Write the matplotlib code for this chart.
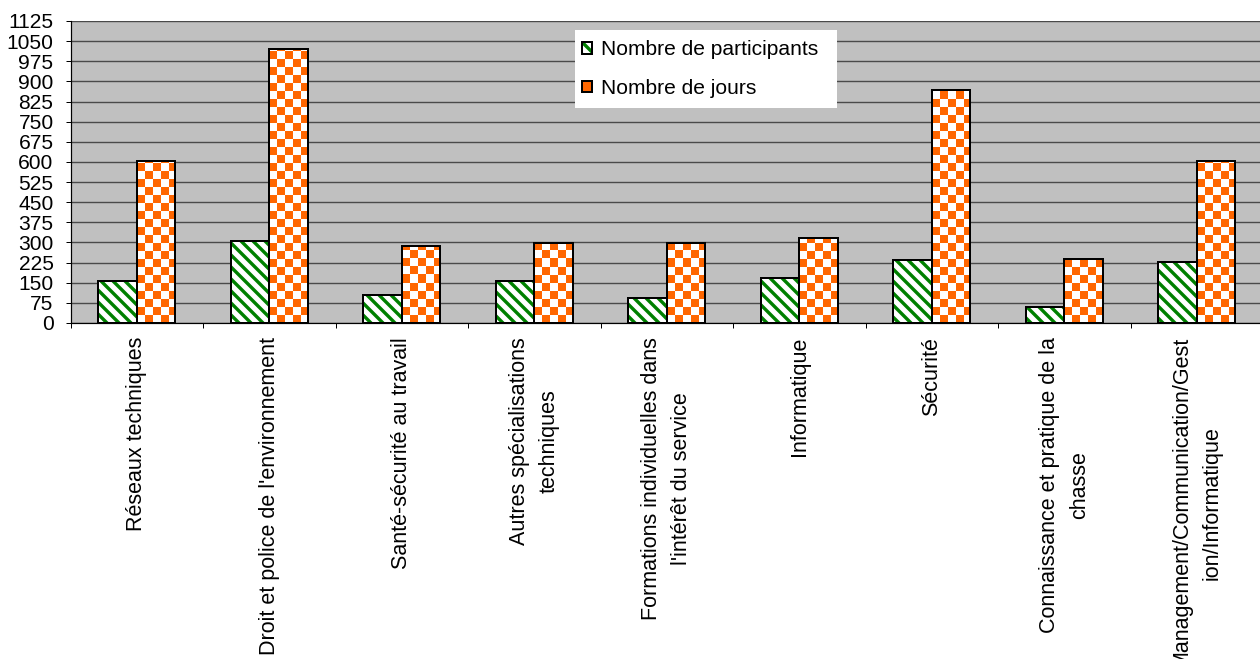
import numpy as np
import matplotlib
matplotlib.use("Agg")
import matplotlib.pyplot as plt
from matplotlib.patches import Patch, Rectangle
from matplotlib.colors import ListedColormap
from matplotlib.legend_handler import HandlerTuple

categories = [
    "Réseaux techniques",
    "Droit et police de l'environnement",
    "Santé-sécurité au travail",
    "Autres spécialisations\ntechniques",
    "Formations individuelles dans\nl'intérêt du service",
    "Informatique",
    "Sécurité",
    "Connaissance et pratique de la\nchasse",
    "Management/Communication/Gest\nion/Informatique",
]
participants = [157, 305, 105, 157, 92, 166, 233, 61, 226]
jours = [603, 1020, 287, 299, 299, 315, 867, 240, 603]
series_labels = ["Nombre de participants", "Nombre de jours"]
yticks = list(range(0, 1126, 75))

DPI = 72
W, H = 1260, 659
plt.rcParams["font.family"] = ["Liberation Sans", "DejaVu Sans"]
plt.rcParams["hatch.linewidth"] = 3.4

GREEN = "#008000"
ORANGE = "#FF6600"
FS = 21
LW = 2.0
STRIPES = "\\\\"

fig = plt.figure(figsize=(W / DPI, H / DPI), dpi=DPI)
x_left, x_right, y_top, y_bot = 70.5, 1263.0, 21.0, 323.0
ax = fig.add_axes([x_left / W, 1 - y_bot / H, (x_right - x_left) / W, (y_bot - y_top) / H])
ax.set_facecolor("#C0C0C0")
ax.set_axisbelow(True)

n = len(categories)
x = np.arange(n)
bw = 0.29
xlim = (-0.5, n - 0.5)
ylim = (0, 1125)

# participants: green diagonal hatch on white, black outline
ax.bar(x - bw / 2, participants, bw, facecolor="white", edgecolor=GREEN,
       hatch=STRIPES, linewidth=0, zorder=1)
ax.bar(x - bw / 2, participants, bw, fill=False, edgecolor="black",
       linewidth=LW, zorder=3)

# jours: orange/white checkerboard clipped to each bar, black outline
px_x = (x_right - x_left) / (xlim[1] - xlim[0])   # pixels per data unit (x)
px_y = (y_bot - y_top) / (ylim[1] - ylim[0])      # pixels per data unit (y)
sq = 8.0                                           # checker square, pixels
cmap = ListedColormap(["white", ORANGE])
base = ax.bar(x + bw / 2, jours, bw, facecolor="white", edgecolor="none",
              linewidth=0, zorder=1)
for rect, v in zip(base.patches, jours):
    x0 = rect.get_x()
    ncols = int(np.ceil(bw * px_x / sq)) + 1
    nrows = int(np.ceil(v * px_y / sq)) + 1
    board = (np.add.outer(np.arange(nrows), np.arange(ncols)) % 2).astype(float)
    im = ax.imshow(board, cmap=cmap, vmin=0, vmax=1, origin="lower",
                   interpolation="nearest", aspect="auto",
                   extent=(x0, x0 + ncols * sq / px_x, 0, nrows * sq / px_y),
                   zorder=1.5)
    im.set_clip_path(rect)
ax.bar(x + bw / 2, jours, bw, fill=False, edgecolor="black",
       linewidth=LW, zorder=3)

ax.set_xlim(*xlim)
ax.set_ylim(*ylim)

# y axis
ax.set_yticks(yticks)
ax.set_yticklabels([str(t) for t in yticks], fontsize=FS)
ax.tick_params(axis="y", direction="out", length=5, width=1, pad=12, colors="black")
ax.yaxis.grid(True, color="#4a4a4a", linewidth=1.4)

# x axis: tick marks between categories, labels at centres
ax.set_xticks(np.arange(n + 1) - 0.5)
ax.set_xticklabels([])
ax.tick_params(axis="x", which="major", direction="out", length=5, width=1)
ax.set_xticks(x, minor=True)
ax.set_xticklabels(categories, minor=True, rotation=90, fontsize=21.5,
                   ha="center", va="top", multialignment="center",
                   linespacing=1.55)
ax.tick_params(axis="x", which="minor", length=0, pad=14)

for side in ("top", "right"):
    ax.spines[side].set_visible(False)
ax.spines["left"].set_color("black")
ax.spines["bottom"].set_color("black")
ax.spines["left"].set_linewidth(1.2)
ax.spines["bottom"].set_linewidth(1.2)

# legend: white panel with the two series keys
fig.patches.append(Rectangle((575 / W, 1 - 108 / H), (837 - 575) / W, (108 - 30) / H,
                             transform=fig.transFigure, facecolor="white",
                             edgecolor="none", zorder=4))
h_part = (Patch(facecolor="white", edgecolor=GREEN, hatch="\\\\", linewidth=0),
          Patch(fill=False, edgecolor="black", linewidth=LW))
h_jours = (Patch(facecolor=ORANGE, edgecolor="none"),
           Patch(fill=False, edgecolor="black", linewidth=LW))
leg = fig.legend([h_part, h_jours], series_labels,
                 handler_map={tuple: HandlerTuple(ndivide=1, pad=0)},
                 loc="upper left", bbox_to_anchor=(575 / W, 1 - 33 / H),
                 bbox_transform=fig.transFigure, borderaxespad=0,
                 frameon=False, fontsize=FS, handlelength=0.45, handleheight=0.45,
                 handletextpad=0.45, labelspacing=0.94, borderpad=0.35)
leg.set_zorder(5)

fig.savefig("out.png", dpi=DPI)
